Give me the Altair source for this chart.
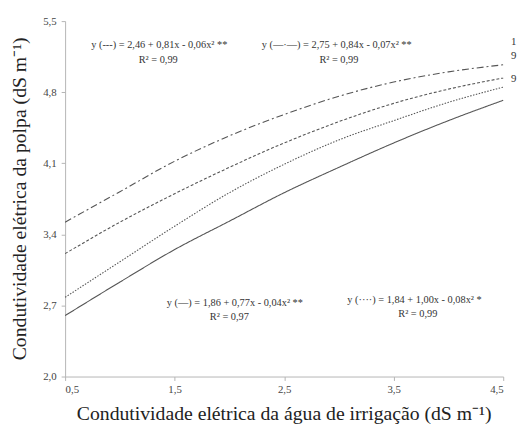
import altair as alt
import pandas as pd

# Data
x_vals = [0.5, 1.0, 1.5, 2.0, 2.5, 3.0, 3.5, 4.0, 4.5]
solid = [2.60, 2.93, 3.25, 3.53, 3.81, 4.06, 4.30, 4.52, 4.72]
dotted = [2.78, 3.13, 3.48, 3.81, 4.09, 4.33, 4.52, 4.70, 4.85]
dashed = [3.21, 3.52, 3.80, 4.06, 4.30, 4.51, 4.69, 4.83, 4.94]
dashdot = [3.52, 3.82, 4.12, 4.37, 4.58, 4.76, 4.90, 5.00, 5.07]

series_names = ["solid", "dotted", "dashed", "dashdot"]
series_values = [solid, dotted, dashed, dashdot]
dash_styles = [[1, 0], [1.5, 1.5], [3, 2], [7, 3, 2, 3]]

y_ticks = [2.0, 2.7, 3.4, 4.1, 4.8, 5.5]
x_ticks = [0.5, 1.5, 2.5, 3.5, 4.5]

ann_text = [
    "y (---) = 2,46 + 0,81x - 0,06x² **", "R² = 0,99",
    "y (—·—) = 2,75 + 0,84x - 0,07x² **", "R² = 0,99",
    "y (—) = 1,86 + 0,77x - 0,04x² **", "R² = 0,97",
    "y (····) = 1,84 + 1,00x - 0,08x² *", "R² = 0,99",
]
ann_x = [1.36, 1.35, 2.98, 3.00, 2.05, 2.00, 3.69, 3.72]
ann_y = [5.26, 5.12, 5.26, 5.12, 2.72, 2.59, 2.75, 2.62]

edge_text = ["1", "9", "9"]
edge_x = [4.5, 4.5, 4.5]
edge_y = [5.29, 5.16, 4.93]

rows = []
for name, vals in zip(series_names, series_values):
    for xv, yv in zip(x_vals, vals):
        rows.append({"x": xv, "y": yv, "serie": name})
df = pd.DataFrame(rows)
ann_df = pd.DataFrame({"x": ann_x, "y": ann_y, "t": ann_text})
edge_df = pd.DataFrame({"x": edge_x, "y": edge_y, "t": edge_text})

FONT = "Liberation Serif"

xscale = alt.Scale(domain=[0.5, 4.5], nice=False, zero=False)
yscale = alt.Scale(domain=[2.0, 5.5], nice=False, zero=False)

lines = alt.Chart(df).mark_line(interpolate="monotone", strokeWidth=1.1, color="#555555").encode(
    x=alt.X("x:Q", scale=xscale,
            axis=alt.Axis(values=x_ticks, labelExpr="replace(format(datum.value, '.1f'), '.', ',')",
                          title="Condutividade elétrica da água de irrigação (dS m⁻¹)",
                          titleX=222, titleY=38, titleBaseline="middle", titleAlign="center")),
    y=alt.Y("y:Q", scale=yscale,
            axis=alt.Axis(values=y_ticks, labelExpr="replace(format(datum.value, '.1f'), '.', ',')",
                          title="Condutividade elétrica da polpa (dS m⁻¹)",
                          titleX=-46, titleY=180, titleAngle=-90, titleBaseline="middle", titleAlign="center")),
    strokeDash=alt.StrokeDash("serie:N", scale=alt.Scale(domain=series_names, range=dash_styles), legend=None),
    detail="serie:N",
)

ann = alt.Chart(ann_df).mark_text(font=FONT, fontSize=10.5, color="#333333", align="center", baseline="middle").encode(
    x=alt.X("x:Q", scale=xscale), y=alt.Y("y:Q", scale=yscale), text="t:N"
)

edge = alt.Chart(edge_df).mark_text(font=FONT, fontSize=11, color="#333333", align="left", baseline="middle", dx=8).encode(
    x=alt.X("x:Q", scale=xscale), y=alt.Y("y:Q", scale=yscale), text="t:N"
)

chart = alt.layer(lines, ann, edge).properties(
    width=445, height=361,
    autosize=alt.AutoSizeParams(type="none"),
    padding={"left": 58, "top": 10, "right": 14, "bottom": 51},
).configure_view(stroke=None).configure_axis(
    grid=False, domainColor="#b5b5b5", tickColor="#b5b5b5", tickSize=4,
    labelFont=FONT, labelFontSize=11, labelColor="#444444", labelPadding=4,
    titleFont=FONT, titleFontSize=20, titleFontWeight="normal", titleColor="#222222",
).configure_axisX(labelPadding=3).configure_axisY(labelPadding=5)

chart.save("out.html", embed_options={"renderer": "svg", "actions": False})
